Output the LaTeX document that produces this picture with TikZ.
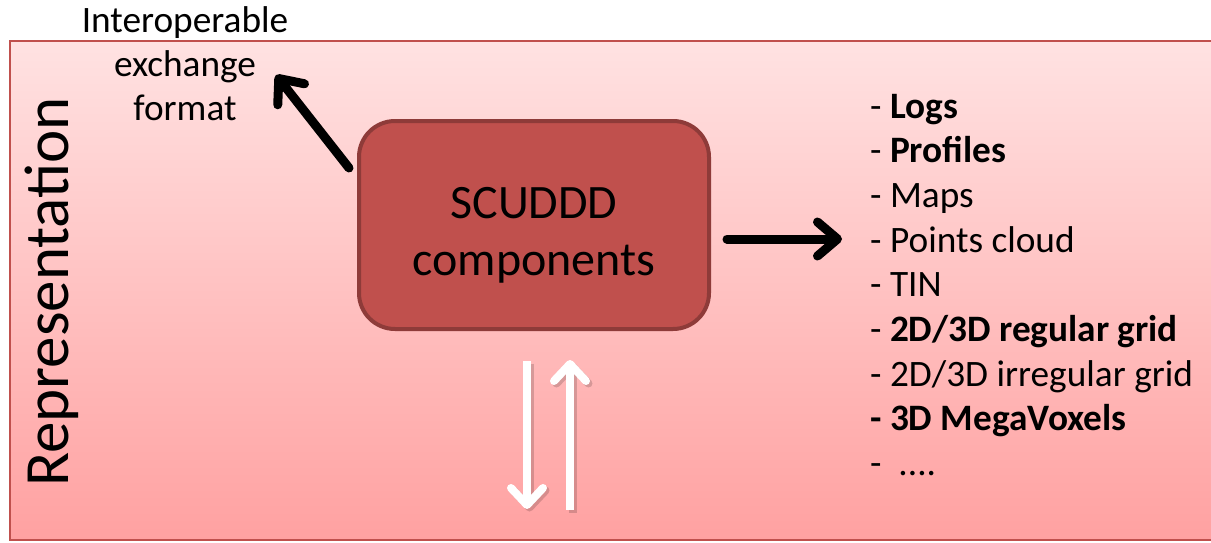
\documentclass[tikz,border=0pt]{standalone}
\usepackage{fontspec}
\setmainfont{Carlito}
\usetikzlibrary{arrows.meta}
\definecolor{boxred}{HTML}{C0504D}
\definecolor{boxedge}{HTML}{8E3B39}
\definecolor{frameedge}{HTML}{C0504D}
\definecolor{bgtop}{HTML}{FFE2E2}
\definecolor{bgbot}{HTML}{FFA1A1}
\tikzset{
  blackarrow/.style={line width=9pt, draw=black, line cap=round,
    -{Straight Barb[length=20pt,width=34pt,line cap=round,line join=round]}},
  whitearrow/.style={line width=8pt, draw=white,
    -{Straight Barb[length=17pt,width=32pt,line cap=round,line join=round]}},
  arrowshadow/.style={line width=8pt, draw=black, opacity=0.16,
    -{Straight Barb[length=17pt,width=32pt,line cap=round,line join=round]}},
  listitem/.style={anchor=base west, inner sep=0pt, font=\fontsize{37.3}{44}\selectfont},
}
\newcommand\moredots{....}
\begin{document}
\begin{tikzpicture}[x=1pt,y=-1pt]
\useasboundingbox (0,0) rectangle (1211,543);
% pink panel, open on the right
\shade[top color=bgtop, bottom color=bgbot] (10,41) rectangle (1230,540);
\draw[frameedge, line width=2.5pt] (1230,41) -- (10,41) -- (10,540) -- (1230,540);

% side title
\node[rotate=90, anchor=base, inner sep=0pt, font=\fontsize{63}{63}\selectfont]
  (rep) at (68,292) {Representation};

% exchange format label
\node[align=center, inner sep=0pt, font=\fontsize{37.3}{44}\selectfont]
  (fmt) at (185,64) {Interoperable\\exchange\\format};

% central component box and its caption
\node[draw=boxedge, fill=boxred, line width=4pt, rounded corners=36pt,
  minimum width=350pt, minimum height=208pt] (box) at (534,225) {};
\node[align=center, inner sep=0pt, font=\fontsize{48}{57}\selectfont]
  (boxlabel) at ([yshift=-10pt]box.center) {SCUDDD\\components};

% list of representations
\foreach \txt [count=\i] in {%
  {- \textbf{Logs}},
  {- \textbf{Profiles}},
  {- Maps},
  {- Points cloud},
  {- TIN},
  {- \textbf{2D/3D regular grid}},
  {- 2D/3D irregular grid},
  {\textbf{- 3D MegaVoxels}},
  {-\ \ \moredots}}
  \node[listitem] (item\i) at (870,{118+44.7*(\i-1)}) {\txt};

% connectors
\coordinate (fmtend) at (276,75);
\coordinate (boxnw) at (349,168);
\draw[blackarrow] (boxnw) -- (fmtend);
\coordinate (boxe) at ([xshift=16pt]box.east);
\coordinate (listin) at (842,239);
\draw[blackarrow] (boxe |- listin) -- (listin);

% exchange arrows below the box
\coordinate (downtop) at (527,361);
\coordinate (downbot) at (527,509);
\coordinate (uptop) at (570,360);
\coordinate (upbot) at (570,510);
\draw[arrowshadow] ([shift={(2.5,2.5)}]downtop) -- ([shift={(2.5,2.5)}]downbot);
\draw[arrowshadow] ([shift={(2.5,2.5)}]upbot) -- ([shift={(2.5,2.5)}]uptop);
\draw[whitearrow] (downtop) -- (downbot);
\draw[whitearrow] (upbot) -- (uptop);
\end{tikzpicture}
\end{document}
